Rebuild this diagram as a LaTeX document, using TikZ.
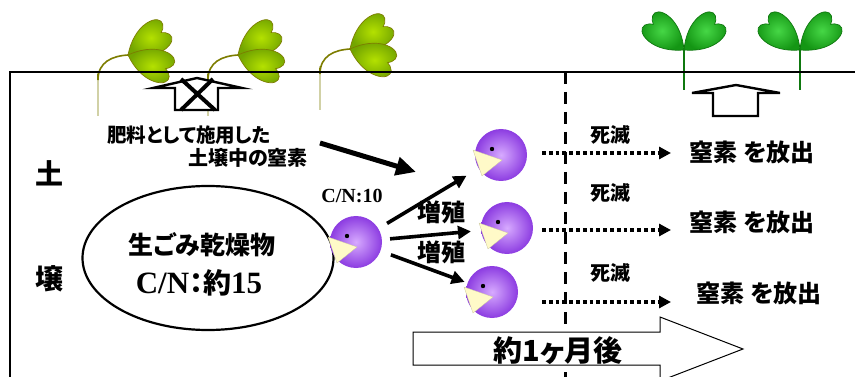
\documentclass[tikz,border=0pt]{standalone}
\usepackage{fontspec}
\newfontfamily\jp{Noto Sans CJK JP}[RawFeature=+palt]
\newfontfamily\rmb{Liberation Serif}
\usetikzlibrary{arrows.meta,shapes.geometric}
\definecolor{limein}{RGB}{180,225,0}
\definecolor{limeout}{RGB}{115,165,0}
\definecolor{limeedge}{RGB}{125,125,0}
\definecolor{grnin}{RGB}{70,215,70}
\definecolor{grnout}{RGB}{20,150,20}
\definecolor{grnedge}{RGB}{15,120,15}
\definecolor{pacin}{RGB}{215,170,255}
\definecolor{pacout}{RGB}{140,60,225}
\definecolor{mouth}{RGB}{255,250,200}
\tikzset{
  leaf/.pic={\path[pic actions] (0,0) .. controls (10,-10) and (22,-16) .. (33,-16)
     .. controls (43,-16) and (48,-11) .. (46,-6) .. controls (45,-3) and (42,-1) .. (40,0)
     .. controls (42,1) and (45,3) .. (46,6) .. controls (48,11) and (43,16) .. (33,16)
     .. controls (22,16) and (10,10) .. (0,0) -- cycle;},
  limeleaf/.style={draw=limeedge, line width=0.7, inner color=limein, outer color=limeout},
  greenleaf/.style={draw=grnedge, line width=0.7, inner color=grnin, outer color=grnout},
  olivestem/.style={draw=limeedge, line width=1.6},
  rootstem/.style={draw=limeedge!35, line width=1.6},
  greenstem/.style={draw=grnedge, line width=2.4},
  jpbold/.style={font=\jp\bfseries\fontsize{#1}{#1}\selectfont, inner sep=0},
  hollowarrow/.style={draw=black, line width=2.4, fill=white, line join=miter},
  pacbody/.style={circle, minimum size=52, inner sep=0, inner color=pacin, outer color=pacout},
  growarrow/.style={line width=3.6, -{Triangle[length=13,width=13]}},
  dotarrow/.style={line width=3.8, dash pattern=on 3.8 off 3, -{Triangle[length=12,width=12]}},
}
\begin{document}
\begin{tikzpicture}[x=1pt,y=-1pt]
\useasboundingbox (0,0) rectangle (855,377);
\clip (0,0) rectangle (855,377);

% --- left seedlings (fertiliser plants) ---
\foreach \dx/\dy in {0/0, 110/0, 222/-6}{
  \begin{scope}[shift={(\dx,\dy)}]
    \draw[rootstem] (98,116) -- (98,72);
    \draw[olivestem] (98,74) -- (98,80) .. controls (98,62) and (112,56) .. (128,55);
    \pic[limeleaf, rotate=34] at (128,55) {leaf};
    \pic[limeleaf, rotate=-20] at (128,55) {leaf};
  \end{scope}
}

% --- right seedlings ---
\foreach \sx in {684, 800}{
  \draw[greenstem] (\sx,90) -- (\sx,50);
  \pic[greenleaf, rotate=140] at (\sx,50) {leaf};
  \pic[greenleaf, rotate=40] at (\sx,50) {leaf};
}

% --- soil boundary and time divider ---
\draw[line width=1.8] (10,377) -- (10,72) -- (855,72);
\draw[line width=3, dash pattern=on 12 off 8] (565,72) -- (565,377);

% --- blocked uptake arrow and released nitrogen arrow ---
\draw[hollowarrow] (153,88) -- (197,78) -- (242,88) -- (218,88) -- (218,110) -- (175,110) -- (175,88) -- cycle;
\draw[line width=4] (181,79) -- (215,110) (213,79) -- (181,110);
\draw[hollowarrow] (692,93) -- (736,85) -- (780,93) -- (758,93) -- (758,116) -- (713,116) -- (713,93) -- cycle;

% --- soil label ---
\node[jpbold=28] (soil1) at (49,173) {土};
\node[jpbold=28] (soil2) at (49,279) {壌};

% --- fertiliser nitrogen ---
\node[jpbold=19.5] (t1) at (189,135) {肥料として施用した};
\node[jpbold=20] (t2) at (248,158) {土壌中の窒素};
\coordinate (fa) at (320,143);
\coordinate (fb) at (416,172);
\draw[line width=5, -{Triangle[length=20,width=18]}] (fa) -- (fb);

% --- dried food waste ---
\node[draw, line width=2.2, ellipse, minimum width=251, minimum height=144, inner sep=0] (waste) at (208,258) {};
\node[jpbold=25] (w1) at (202,245) {生ごみ乾燥物};
\node[inner sep=0] (w2) at (199,283) {{\rmb\bfseries\fontsize{31}{31}\selectfont C/N}{\jp\bfseries\fontsize{28}{28}\selectfont ：約}{\rmb\bfseries\fontsize{31}{31}\selectfont 15}};

% --- microbes ---
\foreach \n/\cx/\cy in {p1/356/242, p2/501/155, p3/507/228, p4/492/292}{
  \node[pacbody] (\n) at (\cx,\cy) {};
  \fill[mouth, draw=mouth!80!black, line width=0.3] (\n.center) ++(1,5) -- ++(-29,-10) -- ++(9,26) -- cycle;
  \fill (\n.center) ++(-9,-6) circle (2.2);
}
\node[inner sep=0, font=\rmb\bfseries\fontsize{20}{20}\selectfont] (cn) at (352,196) {C/N:10};

\draw[growarrow, shorten <=10, shorten >=14] (p1) -- (p2);
\draw[growarrow, shorten <=8, shorten >=10] (p1) -- (p3);
\draw[growarrow, shorten <=11, shorten >=3] (p1) -- (p4);
\node[jpbold=24] (g1) at (441,212) {増殖};
\node[jpbold=24] (g2) at (441,252) {増殖};

% --- death and nitrogen release ---
\node[jpbold=24] (r1) at (752,152) {窒素 を放出};
\node[jpbold=24] (r2) at (752,222) {窒素 を放出};
\node[jpbold=24] (r3) at (759,293) {窒素 を放出};
\node[jpbold=20] (k1) at (610,135) {死滅};
\node[jpbold=20] (k2) at (610,193) {死滅};
\node[jpbold=20] (k3) at (610,273) {死滅};
\coordinate (d1a) at (542,153); \coordinate (d1b) at (671,153);
\coordinate (d2a) at (542,230); \coordinate (d2b) at (671,230);
\coordinate (d3a) at (542,302); \coordinate (d3b) at (671,302);
\draw[dotarrow] (d1a) -- (d1b);
\draw[dotarrow] (d2a) -- (d2b);
\draw[dotarrow] (d3a) -- (d3b);

% --- one month later ---
\draw[line width=1, fill=white] (413,332) -- (660,332) -- (660,317) -- (743,349) -- (660,381) -- (660,365) -- (413,365) -- cycle;
\node[jpbold=29] (month) at (558,351) {約1ヶ月後};
\end{tikzpicture}
\end{document}
